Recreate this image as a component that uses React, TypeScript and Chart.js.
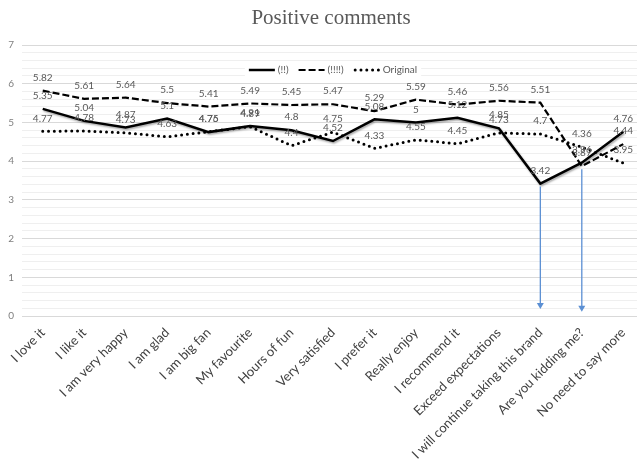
import React, { useEffect, useRef } from 'react';
import { Chart, registerables } from 'chart.js';

Chart.register(...registerables);

const titleText = 'Positive comments';

const categories = [
  'I love it',
  'I like it',
  'I am very happy',
  'I am glad',
  'I am big fan',
  'My favourite',
  'Hours of fun',
  'Very satisfied',
  'I prefer it',
  'Really enjoy',
  'I recommend it',
  'Exceed expectations',
  'I will continue taking this brand',
  'Are you kidding me?',
  'No need to say more',
];

const seriesNames = ['(!!)', '(!!!!)', 'Original'];

const solidValues = [5.35, 5.04, 4.87, 5.1, 4.75, 4.91, 4.8, 4.52, 5.08, 5, 5.12, 4.85, 3.42, 3.96, 4.76];
const dashedValues = [5.82, 5.61, 5.64, 5.5, 5.41, 5.49, 5.45, 5.47, 5.29, 5.59, 5.46, 5.56, 5.51, 3.87, 4.44];
const originalValues = [4.77, 4.78, 4.73, 4.63, 4.76, 4.89, 4.4, 4.75, 4.33, 4.55, 4.45, 4.73, 4.7, 4.36, 3.95];

const yMin = 0;
const yMax = 7;
const yStep = 0.2;

// annotation arrows: category index, series they start from, value they point to
const arrowCategories = [12, 13];
const arrowFromSeries = [0, 1];
const arrowToValues = [0.18, 0.11];

const isInt = (v: number) => Math.abs(v - Math.round(v)) < 1e-6;

const LABEL_FONT = '10px Lato';

const overlayPlugin = {
  id: 'overlay',
  beforeDatasetDraw(chart: any, args: any) {
    if (args.index === 0) {
      const c = chart.ctx;
      c.save();
      c.shadowColor = 'rgba(0,0,0,0.35)';
      c.shadowBlur = 2;
      c.shadowOffsetX = 1;
      c.shadowOffsetY = 1.5;
    }
  },
  afterDatasetDraw(chart: any, args: any) {
    if (args.index === 0) chart.ctx.restore();
  },
  afterDatasetsDraw(chart: any) {
    const c = chart.ctx;
    // arrows
    c.save();
    for (let k = 0; k < arrowCategories.length; k++) {
      const cat = arrowCategories[k];
      const meta = chart.getDatasetMeta(arrowFromSeries[k]);
      const pt = meta.data[cat];
      const x = chart.scales.x.getPixelForValue(cat);
      const y0 = pt.y + 3;
      const y1 = chart.scales.y.getPixelForValue(arrowToValues[k]);
      c.strokeStyle = '#5b8fd3';
      c.fillStyle = '#5b8fd3';
      c.lineWidth = 1.3;
      c.beginPath();
      c.moveTo(x, y0);
      c.lineTo(x, y1 - 4);
      c.stroke();
      c.beginPath();
      c.moveTo(x - 3.5, y1 - 6);
      c.lineTo(x + 3.5, y1 - 6);
      c.lineTo(x, y1);
      c.closePath();
      c.fill();
    }
    c.restore();
    // data labels
    c.save();
    c.font = LABEL_FONT;
    c.fillStyle = '#595959';
    c.textAlign = 'center';
    c.textBaseline = 'middle';
    chart.data.datasets.forEach((ds: any, i: number) => {
      const meta = chart.getDatasetMeta(i);
      meta.data.forEach((pt: any, j: number) => {
        c.fillText(String(ds.data[j]), pt.x, pt.y - 13);
      });
    });
    c.restore();
  },
  afterDraw(chart: any) {
    const c = chart.ctx;
    const area = chart.chartArea;
    // title, centred on the whole (uncropped) chart
    c.save();
    c.font = '21px "Liberation Serif"';
    c.fillStyle = '#595959';
    c.textAlign = 'center';
    c.textBaseline = 'middle';
    c.fillText(titleText, chart.width / 2, 18.6);
    c.restore();
    // legend
    c.save();
    c.font = LABEL_FONT;
    const lineLen = 26;
    const gapLT = 3;
    const gapItems = 10;
    const items = chart.data.datasets.map((ds: any) => ({
      ds,
      w: c.measureText(ds.label).width,
    }));
    let total = 0;
    items.forEach((it: any, i: number) => {
      total += lineLen + gapLT + it.w + (i < items.length - 1 ? gapItems : 0);
    });
    const cx = (area.left + area.right) / 2;
    const y = area.top + 25;
    let x = cx - total / 2;
    c.fillStyle = '#ffffff';
    c.fillRect(x - 4, y - 8, total + 8, 16);
    items.forEach((it: any) => {
      const ds = it.ds;
      c.save();
      c.strokeStyle = ds.borderColor;
      c.lineWidth = ds.borderWidth;
      c.lineCap = ds.borderCapStyle || 'butt';
      c.setLineDash(ds.borderDash || []);
      c.beginPath();
      c.moveTo(x + (c.lineCap === 'round' ? 1.5 : 0), y);
      c.lineTo(x + lineLen, y);
      c.stroke();
      c.restore();
      c.fillStyle = '#595959';
      c.textAlign = 'left';
      c.textBaseline = 'middle';
      c.fillText(ds.label, x + lineLen + gapLT, y);
      x += lineLen + gapLT + it.w + gapItems;
    });
    c.restore();
  },
};

export default function App() {
  const ref = useRef<HTMLCanvasElement>(null);

  useEffect(() => {
    const canvas = ref.current;
    if (!canvas) return;
    const chart = new Chart(canvas, {
      type: 'line',
      data: {
        labels: categories,
        datasets: [
          {
            label: seriesNames[0],
            data: solidValues,
            borderColor: '#000000',
            backgroundColor: '#000000',
            borderWidth: 2.5,
            borderDash: [],
            pointRadius: 0,
            pointHoverRadius: 0,
            tension: 0,
            fill: false,
          },
          {
            label: seriesNames[1],
            data: dashedValues,
            borderColor: '#000000',
            backgroundColor: '#000000',
            borderWidth: 2.2,
            borderDash: [7, 3],
            pointRadius: 0,
            pointHoverRadius: 0,
            tension: 0,
            fill: false,
          },
          {
            label: seriesNames[2],
            data: originalValues,
            borderColor: '#000000',
            backgroundColor: '#000000',
            borderWidth: 3,
            borderDash: [0, 5.8],
            borderCapStyle: 'round',
            pointRadius: 0,
            pointHoverRadius: 0,
            tension: 0,
            fill: false,
          },
        ],
      },
      options: {
        animation: false,
        responsive: false,
        layout: { padding: { left: 0, right: 18, top: 45, bottom: 0 } },
        plugins: {
          legend: { display: false },
          tooltip: { enabled: false },
          title: { display: false },
        },
        scales: {
          x: {
            offset: true,
            grid: { display: false },
            border: { display: false },
            ticks: {
              autoSkip: false,
              minRotation: 45,
              maxRotation: 45,
              color: '#404040',
              font: { family: 'Lato', size: 13 },
              padding: 1,
            },
            afterFit: (s: any) => {
              s.height = 152;
            },
          },
          y: {
            min: yMin,
            max: yMax,
            border: { display: false },
            grid: {
              drawTicks: false,
              color: (ctx: any) => (isInt(ctx.tick.value) ? '#d9d9d9' : '#efefef'),
              lineWidth: 1,
            },
            ticks: {
              stepSize: yStep,
              autoSkip: false,
              maxTicksLimit: 100,
              color: '#7f7f7f',
              font: { family: 'Lato', size: 10 },
              padding: 8,
              callback: (v: any) => (isInt(Number(v)) ? String(Math.round(Number(v))) : ''),
            },
            afterFit: (s: any) => {
              s.width = 22;
            },
          },
        },
      } as any,
      plugins: [overlayPlugin],
    });
    return () => chart.destroy();
  }, []);

  return (
    <div
      style={{
        position: 'absolute',
        left: 0,
        top: 0,
        width: 637,
        height: 468,
        overflow: 'hidden',
        background: '#ffffff',
      }}
    >
      <canvas ref={ref} width={662} height={468} style={{ display: 'block' }} />
    </div>
  );
}
